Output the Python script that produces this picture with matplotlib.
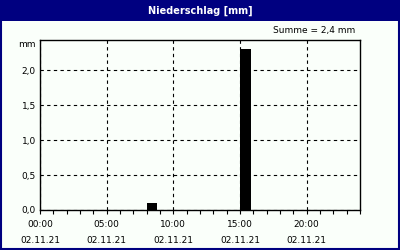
import matplotlib.pyplot as plt
from matplotlib.patches import Rectangle
from matplotlib.ticker import MultipleLocator, FixedLocator

# hourly precipitation, 02.11.21
hours = list(range(24))
niederschlag = [0, 0, 0, 0, 0, 0, 0, 0, 0.1, 0, 0, 0,
                0, 0, 0, 2.3, 0, 0, 0, 0, 0, 0, 0, 0]
major_hours = [0, 5, 10, 15, 20]
xlabels = ['00:00\n02.11.21', '05:00\n02.11.21', '10:00\n02.11.21',
           '15:00\n02.11.21', '20:00\n02.11.21']
ylabels = ['0,0', '0,5', '1,0', '1,5', '2,0']
navy = '#000080'
bg = '#fafffa'

plt.rcParams['font.family'] = ['DejaVu Sans']
fig = plt.figure(figsize=(4, 2.5), dpi=100, facecolor=bg)

# title bar and border
fig.patches.append(Rectangle((0, 1 - 21 / 250), 1, 21 / 250, transform=fig.transFigure,
                             facecolor=navy, edgecolor='none', zorder=0))
fig.patches.append(Rectangle((0.002, 0.004), 0.995, 0.99, transform=fig.transFigure,
                             facecolor='none', edgecolor=navy, linewidth=1.5, zorder=0))
fig.text(0.5, 1 - 10.5 / 250, 'Niederschlag [mm]', color='white', fontsize=7,
         fontweight='bold', ha='center', va='center')

ax = fig.add_axes([0.1, 0.16, 0.8, 0.68])
ax.set_facecolor(bg)
ax.bar(hours, niederschlag, width=0.8, align='edge', color='black', zorder=3)

ax.set_xlim(0, 24)
ax.set_ylim(0, 2.43)
ax.xaxis.set_major_locator(FixedLocator(major_hours))
ax.xaxis.set_minor_locator(MultipleLocator(1))
ax.set_xticklabels(xlabels, fontsize=6.5, linespacing=2.0)
ax.set_yticks([0, 0.5, 1.0, 1.5, 2.0])
ax.set_yticklabels(ylabels, fontsize=6.5)
ax.tick_params(axis='y', length=0, pad=3)
ax.tick_params(axis='x', which='both', direction='out', length=3, width=0.8, pad=4)
ax.grid(True, which='major', color='black', linestyle=(0, (3, 3)), linewidth=0.8, zorder=1)
for s in ax.spines.values():
    s.set_linewidth(1.0)

fig.text(0.09, 1 - 45 / 250, 'mm', fontsize=6.5, ha='right', va='center')
fig.text(0.888, 1 - 31 / 250, 'Summe = 2,4 mm', fontsize=6.5, ha='right', va='center')

fig.savefig('out.png', dpi=100, facecolor=bg)
